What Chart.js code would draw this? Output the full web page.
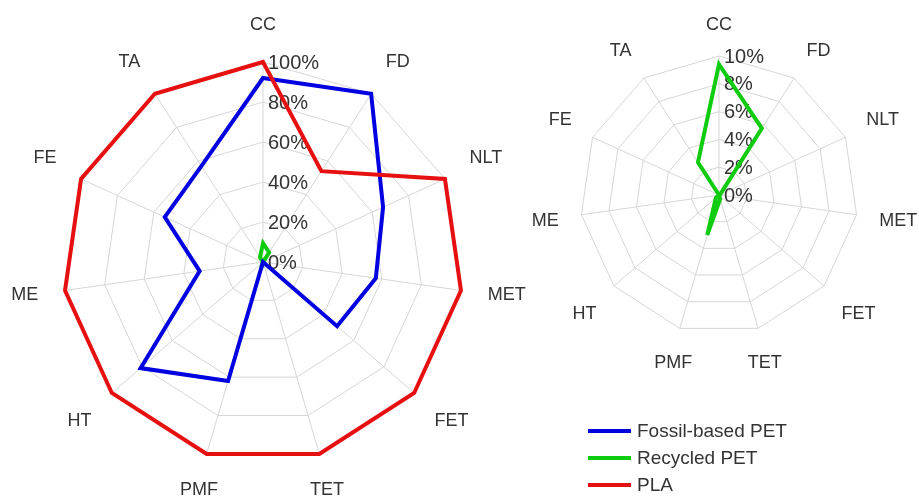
<!DOCTYPE html>
<html>
<head>
<meta charset="utf-8">
<script src="https://cdn.jsdelivr.net/npm/chart.js@4/dist/chart.umd.min.js"></script>
<style>
  html, body { margin: 0; padding: 0; background: #ffffff; }
  #wrap { position: relative; width: 919px; height: 496px; overflow: hidden; background: #fff; }
  canvas { position: absolute; left: 0; top: 0; }
  #legend { position: absolute; left: 588px; top: 417px; font-family: "Liberation Sans", Arial, sans-serif; font-size: 19px; color: #333; }
  .row { height: 27px; display: flex; align-items: center; }
  .swatch { width: 43px; height: 4px; margin-right: 6px; }
</style>
</head>
<body>
<div id="wrap">
  <canvas id="left" width="919" height="496"></canvas>
  <canvas id="right" width="919" height="496"></canvas>
  <div id="legend"></div>
</div>
<script>
// ---- data ----
const categories = ["CC", "FD", "NLT", "MET", "FET", "TET", "PMF", "HT", "ME", "FE", "TA"];
const seriesNames = ["Fossil-based PET", "Recycled PET", "PLA"];
const fossilPET   = [92, 100, 66, 57, 49, 0, 62, 81, 32, 54, 57];
const recycledPET = [9.4, 5.7, 0.1, 0, 0, 0.3, 3.0, 0.3, 0, 0, 2.8];
const pla         = [100, 54, 100, 100, 100, 100, 100, 100, 100, 100, 100];
const leftTicks  = [0, 20, 40, 60, 80, 100];
const rightTicks = [0, 2, 4, 6, 8, 10];

const colors = ["#0000e0", "#10cc10", "#e61010"];
const FONT = '"Liberation Sans", Arial, sans-serif';

const labelPlugin = {
  id: 'customLabels',
  beforeDatasetsDraw(chart, args, opts) {
    const s = chart.scales.r;
    const ctx = chart.ctx;
    const n = chart.data.labels.length;
    ctx.save();
    ctx.fillStyle = '#333333';
    ctx.textBaseline = 'middle';
    ctx.font = '18px ' + FONT;
    chart.data.labels.forEach((lab, i) => {
      const p = s.getPointPosition(i, s.drawingArea + opts.labelPad);
      const a = 2 * Math.PI * i / n;
      const sn = Math.sin(a), cs = Math.cos(a);
      const w = ctx.measureText(lab).width;
      const half = 10;
      let x = p.x, y = p.y + opts.yShift;
      const fromVertical = Math.min(a, Math.abs(Math.PI - a), 2 * Math.PI - a) * 180 / Math.PI;
      if (fromVertical < 20) {
        y += cs > 0 ? -half : half;
      } else {
        x += sn > 0 ? w / 2 : -w / 2;
        if (Math.abs(cs) > 0.3) y += cs > 0 ? -half : half;
      }
      ctx.textAlign = 'center';
      ctx.fillText(lab, x, y);
    });
    ctx.textAlign = 'left';
    ctx.font = '20px ' + FONT;
    opts.ticks.forEach(v => {
      const p = s.getPointPositionForValue(0, v);
      ctx.fillText(v + '%', p.x + 5, p.y + 1);
    });
    ctx.restore();
  }
};

function makeDatasets(list) {
  return list.map(d => ({
    label: d.name,
    data: d.data,
    borderColor: d.color,
    backgroundColor: d.color,
    borderWidth: 4,
    borderJoinStyle: 'miter',
    fill: false,
    pointRadius: 0,
    pointHoverRadius: 0,
    tension: 0,
    clip: false
  }));
}

function makeChart(id, datasets, max, step, ticks, padding, labelPad, yShift) {
  return new Chart(document.getElementById(id), {
    type: 'radar',
    data: { labels: categories, datasets: datasets },
    options: {
      responsive: false,
      animation: false,
      events: [],
      layout: { padding: padding },
      plugins: {
        legend: { display: false },
        tooltip: { enabled: false },
        customLabels: { ticks: ticks, labelPad: labelPad, yShift: yShift }
      },
      scales: {
        r: {
          min: 0, max: max,
          ticks: { display: false, stepSize: step },
          pointLabels: { display: false },
          grid: { color: '#d6d6d6', lineWidth: 1 },
          angleLines: { color: '#d6d6d6', lineWidth: 1 }
        }
      }
    },
    plugins: [labelPlugin]
  });
}

// Left chart: all three series; PLA drawn on top
makeChart('left', makeDatasets([
  { name: seriesNames[2], data: pla, color: colors[2] },
  { name: seriesNames[0], data: fossilPET, color: colors[0] },
  { name: seriesNames[1], data: recycledPET, color: colors[1] }
]), 100, 20, leftTicks, { left: 63, top: 62, right: 456, bottom: 34 }, 27, 0.5);

// Right chart: recycled PET only
makeChart('right', makeDatasets([
  { name: seriesNames[1], data: recycledPET, color: colors[1] }
]), 10, 2, rightTicks, { left: 580, top: 56, right: 61, bottom: 162 }, 23, 2.5);

// Legend
const lg = document.getElementById('legend');
seriesNames.forEach((n, i) => {
  const row = document.createElement('div');
  row.className = 'row';
  const sw = document.createElement('div');
  sw.className = 'swatch';
  sw.style.background = colors[i];
  const t = document.createElement('span');
  t.textContent = n;
  row.appendChild(sw); row.appendChild(t);
  lg.appendChild(row);
});
</script>
</body>
</html>
